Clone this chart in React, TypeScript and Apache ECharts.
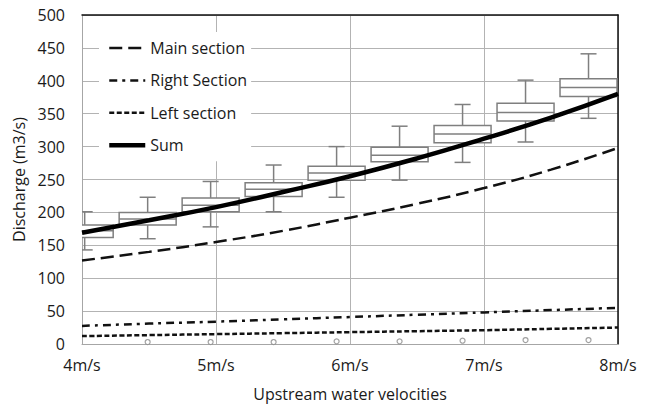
import React, { useEffect, useRef } from "react";
import * as echarts from "echarts";

const velocities = [4, 4.5, 5, 5.5, 6, 6.5, 7, 7.5, 8];
const mainSection = [127, 140, 155, 172, 192, 213, 237, 265, 298];
const rightSection = [27.5, 31, 34, 37.5, 41, 44.5, 48, 51.5, 55];
const leftSection = [12, 13.5, 15, 16.5, 18, 19.5, 21, 23, 25];
const sumSection = [169, 188, 208, 231, 255, 282, 312, 344, 380];

const boxPositions = [4.02, 4.49, 4.96, 5.43, 5.9, 6.37, 6.84, 7.31, 7.78];
const boxMin = [143, 160, 178, 201, 223, 249, 276, 307, 343];
const boxQ1 = [162, 181, 201, 224, 249, 277, 306, 339, 376];
const boxMedian = [172, 190, 211, 235, 260, 287, 319, 352, 390];
const boxQ3 = [181, 200, 222, 245, 270, 299, 332, 366, 403];
const boxMax = [201, 223, 247, 272, 300, 331, 364, 401, 441];

const outlierPositions = [4.49, 4.96, 5.43, 5.9, 6.37, 6.84, 7.31, 7.78];
const outlierValues = [3, 3, 3, 4, 4, 5, 6, 6];

const yTicks = { min: 0, max: 500, interval: 50 };
const FONT = "Open Sans";
const TEXT = "#1a1a1a";

const mainStyle = { color: "#111", width: 2.5, type: [13, 6] };
const rightStyle = { color: "#111", width: 2.5, type: [8, 5, 3, 5] };
const leftStyle = { color: "#111", width: 2.5, type: [5, 2.5] };
const sumStyle = { color: "#000", width: 4.5, type: "solid" };

export default function App() {
  const ref = useRef<HTMLDivElement>(null);
  useEffect(() => {
    if (!ref.current) return;
    const chart = echarts.init(ref.current, undefined, { renderer: "svg" });
    const pair = (arr: number[]) => velocities.map((v, i) => [v, arr[i]]);
    const boxData = boxPositions.map((p, i) => [p, boxMin[i], boxQ1[i], boxMedian[i], boxQ3[i], boxMax[i]]);
    const boxStroke = { stroke: "#7f7f7f", lineWidth: 1.5, fill: "none" };
    const option: any = {
      animation: false,
      backgroundColor: "#fff",
      grid: { left: 82, right: 31, top: 15, bottom: 60, containLabel: false, outerBoundsMode: "none" },
      legend: {
        data: [
          { name: "Main section", lineStyle: mainStyle },
          { name: "Right Section", lineStyle: rightStyle },
          { name: "Left section", lineStyle: leftStyle },
          { name: "Sum", lineStyle: sumStyle },
        ],
        orient: "vertical",
        left: 99,
        top: 32,
        backgroundColor: "#fff",
        padding: [8, 4, 8, 8],
        itemWidth: 36,
        itemHeight: 16,
        itemGap: 16.4,
        itemStyle: { opacity: 0 },
        textStyle: { fontFamily: FONT, fontSize: 16, color: TEXT, lineHeight: 16 },
      },
      xAxis: [
        {
          type: "value",
          min: 4,
          max: 8,
          interval: 1,
          name: "Upstream water velocities",
          nameLocation: "middle",
          nameGap: 42,
          nameTextStyle: { fontFamily: FONT, fontSize: 16, color: TEXT },
          axisLine: { show: true, lineStyle: { color: "#a6a6a6", width: 1 } },
          axisTick: { show: false },
          axisLabel: {
            formatter: (v: number) => `${v}m/s`,
            fontFamily: FONT,
            fontSize: 16,
            color: TEXT,
            margin: 13,
          },
          splitLine: { show: true, lineStyle: { color: "#b3b3b3", width: 1 } },
        },
        {
          type: "value",
          position: "top",
          min: 4,
          max: 8,
          axisLine: { show: true, onZero: false, lineStyle: { color: "#111", width: 1.5 } },
          axisTick: { show: false },
          axisLabel: { show: false },
          splitLine: { show: false },
        },
      ],
      yAxis: [
        {
          type: "value",
          ...yTicks,
          name: "Discharge (m3/s)",
          nameLocation: "middle",
          nameGap: 47,
          nameTextStyle: { fontFamily: FONT, fontSize: 16, color: TEXT },
          axisLine: { show: true, lineStyle: { color: "#a6a6a6", width: 1 } },
          axisTick: { show: false },
          axisLabel: { fontFamily: FONT, fontSize: 16, color: TEXT, margin: 17 },
          splitLine: { show: true, lineStyle: { color: "#b3b3b3", width: 1 } },
        },
        {
          type: "value",
          position: "right",
          ...yTicks,
          axisLine: { show: true, onZero: false, lineStyle: { color: "#111", width: 1.5 } },
          axisTick: { show: false },
          axisLabel: { show: false },
          splitLine: { show: false },
        },
      ],
      series: [
        {
          name: "Boxes",
          type: "custom",
          clip: true,
          data: boxData,
          encode: { x: 0, y: [1, 2, 3, 4, 5] },
          renderItem: (params: any, api: any) => {
            const x = api.value(0);
            const pLo = api.coord([x, api.value(1)]);
            const pQ1 = api.coord([x, api.value(2)]);
            const pMed = api.coord([x, api.value(3)]);
            const pQ3 = api.coord([x, api.value(4)]);
            const pHi = api.coord([x, api.value(5)]);
            const cx = pMed[0];
            const half = 28.5;
            const cap = 8;
            return {
              type: "group",
              children: [
                { type: "line", shape: { x1: cx, y1: pHi[1], x2: cx, y2: pQ3[1] }, style: boxStroke },
                { type: "line", shape: { x1: cx, y1: pQ1[1], x2: cx, y2: pLo[1] }, style: boxStroke },
                { type: "line", shape: { x1: cx - cap, y1: pHi[1], x2: cx + cap, y2: pHi[1] }, style: boxStroke },
                { type: "line", shape: { x1: cx - cap, y1: pLo[1], x2: cx + cap, y2: pLo[1] }, style: boxStroke },
                {
                  type: "rect",
                  shape: { x: cx - half, y: pQ3[1], width: 2 * half, height: pQ1[1] - pQ3[1] },
                  style: { ...boxStroke, fill: "#fff" },
                },
                { type: "line", shape: { x1: cx - half, y1: pMed[1], x2: cx + half, y2: pMed[1] }, style: boxStroke },
              ],
            };
          },
        },
        {
          name: "Outliers",
          type: "scatter",
          data: outlierPositions.map((p, i) => [p, outlierValues[i]]),
          symbol: "circle",
          symbolSize: 5,
          itemStyle: { color: "#fff", borderColor: "#8a8a8a", borderWidth: 1.2 },
        },
        {
          name: "Main section",
          type: "line",
          data: pair(mainSection),
          smooth: true,
          symbol: "none",
          lineStyle: mainStyle,
          itemStyle: { color: "#111" },
        },
        {
          name: "Right Section",
          type: "line",
          data: pair(rightSection),
          smooth: true,
          symbol: "none",
          lineStyle: rightStyle,
          itemStyle: { color: "#111" },
        },
        {
          name: "Left section",
          type: "line",
          data: pair(leftSection),
          smooth: true,
          symbol: "none",
          lineStyle: leftStyle,
          itemStyle: { color: "#111" },
        },
        {
          name: "Sum",
          type: "line",
          data: pair(sumSection),
          smooth: true,
          symbol: "none",
          lineStyle: sumStyle,
          itemStyle: { color: "#000" },
        },
      ],
    };
    chart.setOption(option);
    return () => chart.dispose();
  }, []);
  return (
    <div
      ref={ref}
      style={{ position: "fixed", left: 0, top: 0, width: 649, height: 404, background: "#fff" }}
    />
  );
}
